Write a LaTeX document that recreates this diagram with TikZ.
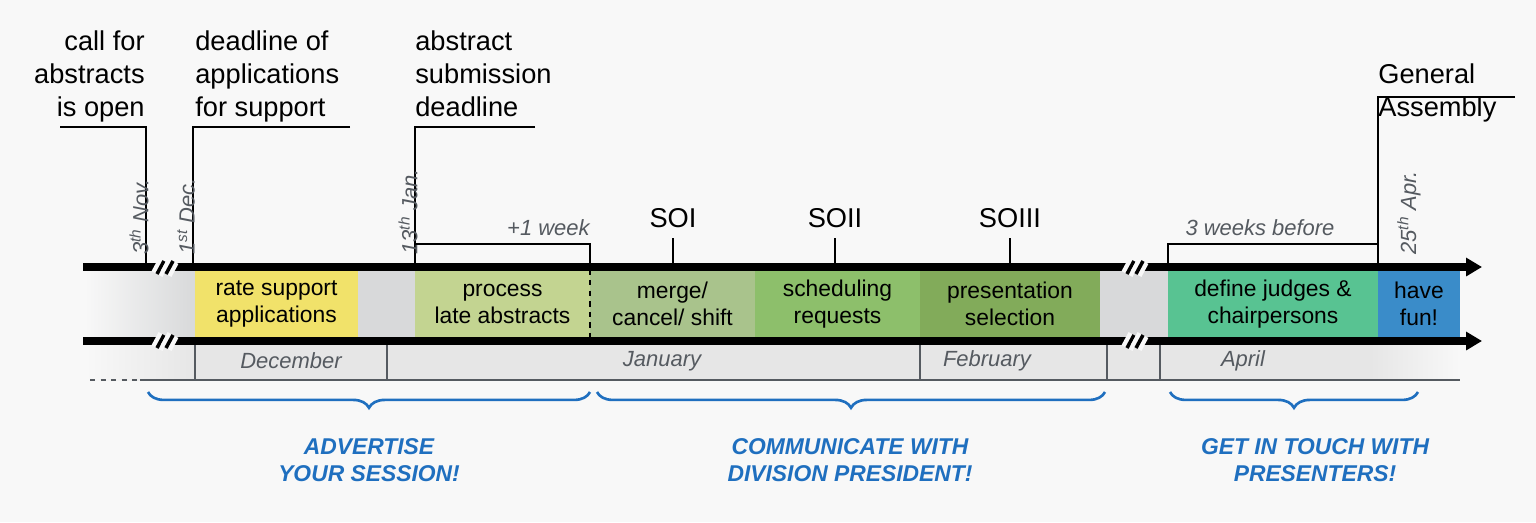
\documentclass[tikz,border=0pt]{standalone}
\usepackage{fontspec}
\setmainfont{Liberation Sans}
\usetikzlibrary{decorations.pathreplacing,arrows.meta}
\definecolor{bgcol}{HTML}{F8F8F8}
\definecolor{bandgray}{HTML}{D8D9DA}
\definecolor{monthgray}{HTML}{E6E6E6}
\definecolor{cyellow}{HTML}{F1E26A}
\definecolor{clight}{HTML}{C3D491}
\definecolor{colive}{HTML}{A9C38C}
\definecolor{cgreen}{HTML}{8DBF6B}
\definecolor{cdark}{HTML}{82AB5A}
\definecolor{cteal}{HTML}{58C392}
\definecolor{cblue}{HTML}{3A8CC9}
\definecolor{bluetext}{HTML}{1F6FBF}
\definecolor{datecol}{HTML}{555A60}
\tikzset{
  task/.style={minimum height=68*0.02cm, inner sep=0pt, align=center, font=\fontsize{13}{15.4}\selectfont},
  month/.style={font=\fontsize{12.5}{14}\selectfont\itshape, text=datecol},
  datelbl/.style={rotate=90, anchor=west, inner sep=0pt, font=\fontsize{12.5}{14}\selectfont\itshape, text=datecol},
  toplbl/.style={align=left, inner sep=0pt, font=\fontsize{15.5}{19}\selectfont},
  soilbl/.style={inner sep=0pt, font=\fontsize{15.5}{19}\selectfont},
  hint/.style={inner sep=0pt, font=\fontsize{12.5}{14}\selectfont\itshape, text=datecol},
  axis/.style={line width=4pt, -{Triangle[length=9pt,width=10pt]}},
  marker/.style={line width=1pt},
  breakmark/.style={line width=2.5pt, bgcol, double=black, double distance=2pt},
  bluebrace/.style={bluetext, line width=1.5pt, decorate, decoration={brace, mirror, amplitude=9pt}},
  advice/.style={align=center, text=bluetext, font=\fontsize{13}{15.4}\selectfont\bfseries\itshape}
}
\begin{document}
\begin{tikzpicture}[x=0.02cm, y=-0.02cm]
  \fill[bgcol] (0,0) rectangle (1536,522);
  \useasboundingbox (0,0) rectangle (1536,522);

  % band and months
  \fill[left color=bgcol, right color=bandgray] (85,269) rectangle (195,339);
  \fill[bandgray] (195,269) rectangle (1460,339);
  \fill[left color=bgcol, right color=monthgray] (85,342) rectangle (195,380);
  \fill[monthgray] (195,342) rectangle (1370,380);
  \fill[left color=monthgray, right color=bgcol] (1370,342) rectangle (1460,380);
  \foreach \x in {195,387,920,1107,1160}
    \draw[datecol, line width=0.6pt] (\x,342) -- (\x,380);
  \draw[datecol, line width=0.8pt, dashed] (90,380) -- (140,380);
  \draw[datecol, line width=0.8pt] (140,380) -- (1460,380);
  \node[month] (dec) at (291,361) {December};
  \node[month] (jan) at (662,361) {January};
  \node[month] (feb) at (987,361) {February};
  \node[month] (apr) at (1243,361) {April};

  % tasks
  \node[task, fill=cyellow, minimum width=163*0.02cm] (rate) at (276.5,304) {rate support\\applications};
  \node[task, fill=clight, minimum width=175*0.02cm] (late) at (502.5,304) {process\\late abstracts};
  \node[task, fill=colive, minimum width=165*0.02cm] (merge) at (672.5,304) {merge/\\cancel/ shift};
  \node[task, fill=cgreen, minimum width=165*0.02cm] (sched) at (837.5,304) {scheduling\\requests};
  \node[task, fill=cdark, minimum width=180*0.02cm] (pres) at (1010,304) {presentation\\selection};
  \node[task, fill=cteal, minimum width=210*0.02cm] (judges) at (1273,304) {define judges \&\\chairpersons};
  \node[task, fill=cblue, minimum width=82*0.02cm] (fun) at (1419,304) {have\\fun!};
  \draw[dashed, line width=1pt] (late.north east) -- (late.south east);

  % axes
  \draw[axis] (83,267) -- (1482,267);
  \draw[axis] (83,341) -- (1482,341);
  \foreach \x in {165,1135}{
    \draw[breakmark] (\x-8,274) -- (\x-1,261);
    \draw[breakmark] (\x+1,274) -- (\x+8,261);
    \draw[breakmark] (\x-8,348) -- (\x-1,335);
    \draw[breakmark] (\x+1,348) -- (\x+8,335);
  }

  % milestones
  \node[toplbl, align=right, anchor=north east] (open) at (145,30) {call for\\abstracts\\is open};
  \node[toplbl, anchor=north west] (support) at (195,30) {deadline of\\applications\\for support};
  \node[toplbl, anchor=north west] (submit) at (415,30) {abstract\\submission\\deadline};
  \node[toplbl, anchor=north west] (assembly) at (1378,63) {General\\Assembly};
  \draw[marker] (60,127) -- (146,127) -- (146,265);
  \draw[marker] (350,127) -- (193,127) -- (193,265);
  \draw[marker] (535,127) -- (415,127) -- (415,265);
  \draw[marker] (1515,97) -- (1378,97) -- (1378,265);
  \node[datelbl] (nov) at (139,255) {3\textsuperscript{th} Nov.};
  \node[datelbl] (dec1) at (186,255) {1\textsuperscript{st} Dec.};
  \node[datelbl] (jan13) at (408,255) {13\textsuperscript{th} Jan.};
  \node[datelbl] (apr25) at (1409,255) {25\textsuperscript{th} Apr.};

  % brackets
  \draw[marker] (415,244) -- (590,244) -- (590,265);
  \node[hint, anchor=south east] (week) at (590,236) {+1 week};
  \draw[marker] (1168,265) -- (1168,244) -- (1378,244);
  \node[hint, anchor=south] (before) at (1260,236) {3 weeks before};
  \foreach \x/\t in {673/SOI,835/SOII,1010/SOIII}{
    \node[soilbl] (\t) at (\x,218) {\t};
    \draw[marker] (\x,238) -- (\x,265);
  }

  % advice
  \draw[bluebrace] (148,392) -- (590,392);
  \draw[bluebrace] (597,392) -- (1105,392);
  \draw[bluebrace] (1170,392) -- (1418,392);
  \node[advice] (adv) at (369,460) {ADVERTISE\\YOUR SESSION!};
  \node[advice] (comm) at (850,460) {COMMUNICATE WITH\\DIVISION PRESIDENT!};
  \node[advice] (touch) at (1315,460) {GET IN TOUCH WITH\\PRESENTERS!};
\end{tikzpicture}
\end{document}
